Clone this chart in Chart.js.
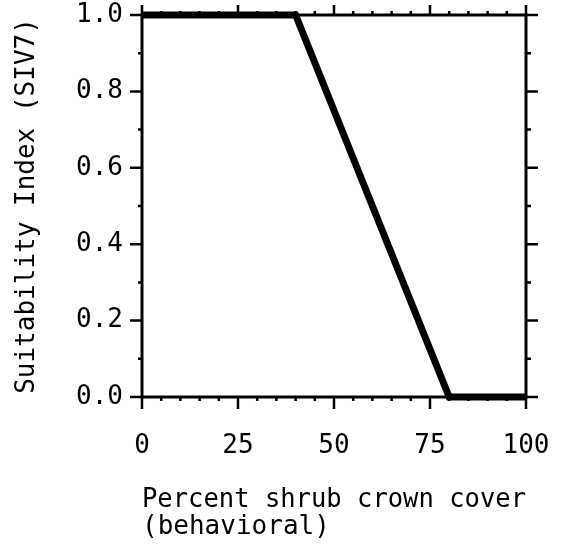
<!DOCTYPE html>
<html>
<head>
<meta charset="utf-8">
<script src="https://cdn.jsdelivr.net/npm/chart.js@4"></script>
<style>
  html, body { margin: 0; padding: 0; background: #fff; }
  #wrap { width: 562px; height: 547px; }
</style>
</head>
<body>
<div id="wrap"><canvas id="grafico" width="562" height="547"></canvas></div>
<script>
// shrub crown cover (%) vs suitability index
const coverValues = [0, 40, 80, 100];
const siValues = [1.0, 1.0, 0.0, 0.0];
const xTicks = [0, 25, 50, 75, 100];
const yTicks = [0.0, 0.2, 0.4, 0.6, 0.8, 1.0];

const FONT = "'DejaVu Sans Mono', monospace";

// box + major/minor tick marks on all four sides
const frame = {
  id: "frame",
  afterDraw(chart) {
    const ctx = chart.ctx;
    const x = chart.scales.x, y = chart.scales.y;
    const a = chart.chartArea;
    ctx.save();
    ctx.strokeStyle = "#000";
    ctx.lineWidth = 3;
    ctx.strokeRect(a.left, a.top, a.right - a.left, a.bottom - a.top);
    ctx.lineWidth = 2.5;
    ctx.beginPath();
    for (let v = 0; v <= 100; v += 5) {
      const px = x.getPixelForValue(v);
      const major = v % 25 === 0;
      ctx.moveTo(px, a.bottom); ctx.lineTo(px, a.bottom + (major ? 12 : 4));
      ctx.moveTo(px, a.top); ctx.lineTo(px, a.top - (major ? 10 : 4));
    }
    for (let i = 0; i <= 10; i++) {
      const py = y.getPixelForValue(i / 10);
      const major = i % 2 === 0;
      ctx.moveTo(a.left, py); ctx.lineTo(a.left - (major ? 12 : 4), py);
      ctx.moveTo(a.right, py); ctx.lineTo(a.right + (major ? 12 : 5), py);
    }
    ctx.stroke();
    ctx.restore();
  }
};

new Chart("grafico", {
  type: "scatter",
  data: {
    datasets: [{
      data: coverValues.map((c, i) => ({ x: c, y: siValues[i] })),
      showLine: true,
      borderColor: "#000",
      borderWidth: 7,
      pointRadius: 0,
      clip: false
    }]
  },
  options: {
    responsive: false,
    animation: false,
    layout: { padding: { left: 0, top: 15, right: 36, bottom: 0 } },
    plugins: { legend: { display: false }, tooltip: { enabled: false } },
    scales: {
      x: {
        type: "linear", min: 0, max: 100,
        afterBuildTicks: s => { s.ticks = xTicks.map(v => ({ value: v })); },
        afterFit: s => { s.height = 150; s.paddingLeft = 0; s.paddingRight = 0; },
        grid: { display: false, drawTicks: false },
        border: { display: false },
        ticks: { color: "#000", padding: 34, maxRotation: 0, font: { family: FONT, size: 26 } },
        title: {
          display: true, align: "start",
          text: ["Percent shrub crown cover", "(behavioral)"],
          color: "#000", font: { family: FONT, size: 26, lineHeight: 1.05 },
          padding: { top: 0, bottom: 6 }
        }
      },
      y: {
        type: "linear", min: 0, max: 1,
        afterBuildTicks: s => { s.ticks = yTicks.map(v => ({ value: v })); },
        afterFit: s => { s.width = 142; s.paddingTop = 0; s.paddingBottom = 0; },
        grid: { display: false, drawTicks: false },
        border: { display: false },
        ticks: { color: "#000", padding: 19, callback: v => v.toFixed(1), font: { family: FONT, size: 26 } },
        title: {
          display: true, text: "Suitability Index (SIV7)",
          color: "#000", font: { family: FONT, size: 26 },
          padding: { top: 12, bottom: 0 }
        }
      }
    }
  },
  plugins: [frame]
});
</script>
</body>
</html>
